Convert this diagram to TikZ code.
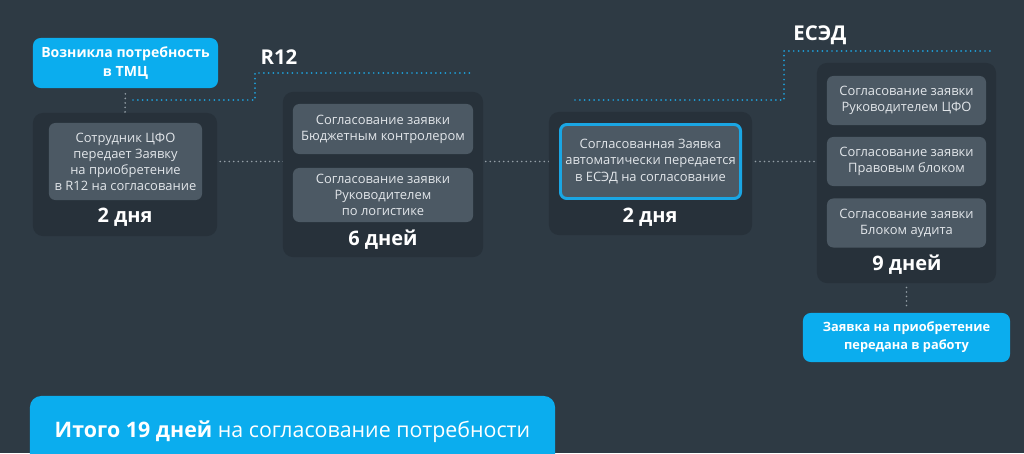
\documentclass[tikz,border=0pt]{standalone}
\usepackage{fontspec}
\setmainfont{Open Sans}
\pgfdeclarelayer{bgzero}
\pgfdeclarelayer{bgone}
\pgfsetlayers{bgzero,bgone,main}
\definecolor{pagebg}{HTML}{2E3A44}
\definecolor{cardc}{HTML}{27313A}
\definecolor{innerc}{HTML}{4C5964}
\definecolor{bluec}{HTML}{0BADEE}
\definecolor{hlc}{HTML}{1AA6E4}
\definecolor{dotg}{HTML}{949FA7}
\definecolor{dotb}{HTML}{1E9FD8}
\definecolor{txtc}{HTML}{E2E6EA}
\begin{document}
\begin{tikzpicture}[x=0.025cm,y=-0.025cm,
  card/.style={fill=cardc, rounded corners=7pt, inner sep=0pt},
  inner/.style={fill=innerc, rounded corners=4.5pt, text=txtc, inner sep=0pt, align=center,
    font=\fontsize{9.2}{11.4}\selectfont},
  hlbox/.style={inner, draw=hlc, line width=2.1pt},
  days/.style={text=white, font=\fontsize{14.2}{16}\selectfont\bfseries, inner sep=0pt},
  bluebox/.style={fill=bluec, rounded corners=5.5pt, text=white, align=center, inner sep=0pt,
    font=\fontsize{10}{13.5}\selectfont\bfseries},
  lbl/.style={text=white, font=\fontsize{14.5}{16}\selectfont\bfseries, inner sep=0pt},
  gdots/.style={draw=dotg, line width=1.3pt, line cap=round, dash pattern=on 0pt off 3.2pt},
  bdots/.style={draw=dotb, line width=1.4pt, line cap=round, dash pattern=on 0pt off 3.4pt}]
\useasboundingbox (0,0) rectangle (1024,453);
\begin{pgfonlayer}{bgzero}
\fill[pagebg] (0,0) rectangle (1024,453);
\end{pgfonlayer}

% top blue box
\node[bluebox, minimum width=4.625cm, minimum height=1.25cm] (need) at (125.5,63)
  {Возникла потребность\\в ТМЦ};

% card 1
\node[card, minimum width=4.6cm, minimum height=3.075cm] (card1) at (125,174.5) {};
\node[inner, minimum width=3.825cm, minimum height=1.925cm] (box1) at (125.5,161.5)
  {Сотрудник ЦФО\\передает Заявку\\на приобретение\\в R12 на согласование};
\node[days] (d1) at (125,217) {2 дня};

% card 2
\node[card, minimum width=5cm, minimum height=4.125cm] (card2) at (383,174.5) {};
\node[inner, minimum width=4.5cm, minimum height=1.25cm] (box2a) at (383,129)
  {Согласование заявки\\Бюджетным контролером};
\node[inner, minimum width=4.5cm, minimum height=1.35cm] (box2b) at (383,195)
  {Согласование заявки\\Руководителем\\по логистике};
\node[days] (d2) at (383,240) {6 дней};

% card 3
\node[card, minimum width=5.075cm, minimum height=3.075cm] (card3) at (650.5,173.5) {};
\node[hlbox, minimum width=4.5cm, minimum height=1.85cm] (box3) at (650.5,161.5)
  {Согласованная Заявка\\автоматически передается\\в ЕСЭД на согласование};
\node[days] (d3) at (650,217) {2 дня};

% card 4
\node[card, minimum width=4.475cm, minimum height=5.5cm] (card4) at (906.5,173) {};
\node[inner, minimum width=3.975cm, minimum height=1.225cm] (box4a) at (906.5,100.5)
  {Согласование заявки\\Руководителем ЦФО};
\node[inner, minimum width=3.975cm, minimum height=1.225cm] (box4b) at (906.5,161.5)
  {Согласование заявки\\Правовым блоком};
\node[inner, minimum width=3.975cm, minimum height=1.225cm] (box4c) at (906.5,223)
  {Согласование заявки\\Блоком аудита};
\node[days] (d4) at (907,265) {9 дней};

% final blue box
\node[bluebox, minimum width=5.175cm, minimum height=1.225cm,
  font=\fontsize{9.1}{12.8}\selectfont\bfseries] (done) at (906.5,337.5)
  {Заявка на приобретение\\передана в работу};

% total
\node[bluebox, rounded corners=8pt, minimum width=13.125cm, minimum height=1.8cm,
  font=\fontsize{15.2}{18}\selectfont] (total) at (292.5,432)
  {\textbf{Итого 19 дней} на согласование потребности};

% section labels
\node[lbl] (r12) at (279,57) {R12};
\node[lbl] (esed) at (820,35) {ЕСЭД};

% connectors
\coordinate (ra) at (133,100);
\coordinate (rb) at (255,100);
\coordinate (rc) at (255,73);
\coordinate (rd) at (470,73);
\coordinate (ea) at (575,100);
\coordinate (eb) at (784,100);
\coordinate (ec) at (784,51);
\coordinate (ed) at (992,51);
\begin{pgfonlayer}{bgone}
\draw[gdots] (box1.east) -- (box3.west);
\draw[gdots] (box3.east) -- (box4b.west);
\end{pgfonlayer}
\draw[gdots, shorten <=4pt] (need.south) -- (card1.north);
\draw[gdots, shorten <=3pt, shorten >=2pt] (card4.south) -- (done.north);
\draw[bdots] (ra) -- (rb) -- (rc) -- (rd);
\draw[bdots] (ea) -- (eb) -- (ec) -- (ed);
\end{tikzpicture}
\end{document}
